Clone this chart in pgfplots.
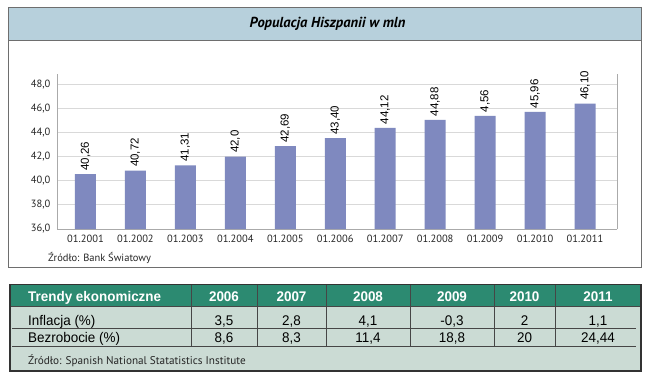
\documentclass[border=0pt]{standalone}
\usepackage{pgfplots}
\pgfplotsset{compat=1.18}
\usepackage{fontspec}
\setmainfont{Liberation Sans}
\newfontfamily\pts{PT Sans}
\newfontfamily\arialn[FakeStretch=0.96]{Liberation Sans}
\definecolor{titlebg}{RGB}{183,208,220}
\definecolor{barcol}{RGB}{127,137,191}
\definecolor{headbg}{RGB}{44,138,113}
\definecolor{rowbg}{RGB}{203,219,212}
\definecolor{gridc}{RGB}{217,217,217}
\definecolor{axc}{RGB}{170,170,170}
\definecolor{framec}{RGB}{110,110,110}
\definecolor{tabline}{RGB}{70,70,70}
\begin{document}
\begin{tikzpicture}
\useasboundingbox (0,0) rectangle (650pt,376pt);
% ---- top panel
\fill[white] (8pt,109pt) rectangle (641pt,369pt);
\fill[titlebg] (8pt,336pt) rectangle (641pt,369pt);
\draw[framec, line width=1pt] (8pt,109pt) rectangle (641pt,369pt);
\draw[framec, line width=1pt] (8pt,336pt) -- (641pt,336pt);
\node[font=\pts\itshape\bfseries\fontsize{14.5}{16}\selectfont] at (327.5pt,352.5pt) {Populacja Hiszpanii w mln};
\begin{axis}[
  at={(57pt,147pt)}, anchor=south west,
  scale only axis, width=560pt, height=155pt,
  ybar, bar width=21pt,
  xmin=-0.57, xmax=10.64, ymin=36, ymax=48.85,
  xtick={0,...,10},
  xticklabels={01.2001,01.2002,01.2003,01.2004,01.2005,01.2006,01.2007,01.2008,01.2009,01.2010,01.2011},
  ytick={36,38,...,48},
  yticklabel style={/pgf/number format/fixed, /pgf/number format/fixed zerofill, /pgf/number format/precision=1, /pgf/number format/use comma},
  /pgf/number format/assume math mode=true,
  tick label style={font=\pts\fontsize{10.5}{12}\selectfont, text=black!85},
  major tick length=0pt,
  xticklabel style={yshift=-2pt},
  yticklabel style={xshift=-3pt},
  axis x line*=bottom, axis y line*=left,
  axis line style={draw=axc, line width=0.8pt, -},
  ymajorgrids, major grid style={draw=gridc, line width=0.8pt},
  point meta=explicit symbolic,
  nodes near coords,
  every node near coord/.append style={rotate=90, anchor=west, font=\fontsize{11.5}{13}\selectfont, text=black, inner sep=3.5pt},
  clip=false,
]
\addplot[fill=barcol, draw=none] table[x=x, y=y, meta=lab] {
x y lab
0 40.55 {40,26}
1 40.85 {40,72}
2 41.27 {41,31}
3 42.00 {42,0}
4 42.87 {42,69}
5 43.53 {43,40}
6 44.38 {44,12}
7 45.05 {44,88}
8 45.38 {4,56}
9 45.71 {45,96}
10 46.40 {46,10}
};
\draw[axc, line width=0.8pt] (rel axis cs:1,0) -- (rel axis cs:1,1);
\end{axis}
\node[anchor=base west, inner sep=0pt, font=\pts\fontsize{10.5}{12}\selectfont, text=black!85] at (48pt,114.5pt) {Źródło: Bank Światowy};
% ---- table
\fill[rowbg] (10pt,5pt) rectangle (641pt,91.3pt);
\fill[headbg] (10pt,69.3pt) rectangle (641pt,91.3pt);
\draw[tabline, line width=0.7pt] (12pt,47.3pt) -- (636pt,47.3pt);
\draw[tabline, line width=0.7pt] (12pt,29.3pt) -- (636pt,29.3pt);
\draw[tabline, line width=0.7pt] (10pt,69.3pt) -- (641pt,69.3pt);
\foreach \xx in {190.8,257,326,410,494,555}{
  \draw[tabline, line width=0.6pt] (\xx pt,29.3pt) -- (\xx pt,91.3pt);
}
\draw[black!80, line width=1.2pt] (10pt,5pt) rectangle (641pt,91.3pt);
\begin{scope}[every node/.style={anchor=base, font=\arialn\fontsize{14}{16}\selectfont, inner sep=0pt}]
\node[anchor=base west, text=white, font=\arialn\bfseries\fontsize{14}{16}\selectfont] at (28pt,75pt) {Trendy ekonomiczne};
\foreach \cx/\yy in {224/2006, 291.5/2007, 368/2008, 452/2009, 524.5/2010, 598/2011}{
  \node[text=white, font=\arialn\bfseries\fontsize{14}{16}\selectfont] at (\cx pt,75pt) {\yy};
}
\node[anchor=base west] at (28pt,51pt) {Inflacja (\%)};
\node[anchor=base west] at (28pt,33.3pt) {Bezrobocie (\%)};
\foreach \cx/\v in {224/{3,5}, 291.5/{2,8}, 368/{4,1}, 452/{-0,3}, 524.5/{2}, 598/{1,1}}{
  \node at (\cx pt,51pt) {\v};
}
\foreach \cx/\v in {224/{8,6}, 291.5/{8,3}, 368/{11,4}, 452/{18,8}, 524.5/{20}, 598/{24,44}}{
  \node at (\cx pt,33.3pt) {\v};
}
\end{scope}
\node[anchor=base west, inner sep=0pt, font=\pts\fontsize{11.2}{13}\selectfont, text=black!85] at (28pt,12pt) {Źródło: Spanish National Statatistics Institute};
\end{tikzpicture}
\end{document}
